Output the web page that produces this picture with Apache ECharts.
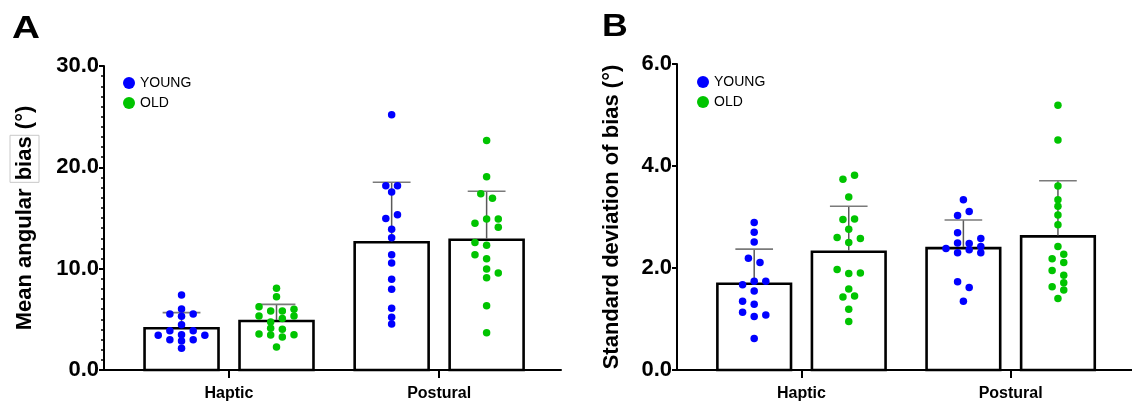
<!DOCTYPE html>
<html>
<head>
<meta charset="utf-8">
<script src="https://cdn.jsdelivr.net/npm/echarts@6/dist/echarts.min.js"></script>
<style>
html,body{margin:0;padding:0;background:#fff;}
#chart{width:1132px;height:403px;}
</style>
</head>
<body>
<div id="chart"></div>
<script>
// ---------- data ----------
const categories = ['Haptic', 'Postural'];
const groups = ['YOUNG', 'OLD'];
const panelLetters = ['A', 'B'];
const yTicksA = [0, 10, 20, 30];
const yTicksB = [0, 2, 4, 6];

// Panel A: mean angular bias (°) — bar means and SD (per category)
const angMeanYoung = [4.12, 12.60];
const angMeanOld = [4.84, 12.86];
const angSdYoung = [1.54, 5.93];
const angSdOld = [1.64, 4.78];

// Panel B: standard deviation of bias (°)
const sdMeanYoung = [1.69, 2.39];
const sdMeanOld = [2.32, 2.62];
const sdSdYoung = [0.68, 0.55];
const sdSdOld = [0.89, 1.09];

// Individual subjects (values) and swarm column index
const angYoungHaptic = [7.40, 6.02, 5.53, 5.53, 5.30, 4.47, 3.88, 3.88, 3.42, 3.49, 3.42, 2.99, 2.99, 2.86, 2.14];
const angYoungHapticCol = [0, 0, -1, 1, 0, 0, -1, 1, -2, 0, 2, -1, 1, 0, 0];
const angOldHaptic = [8.06, 7.24, 6.25, 5.82, 5.82, 5.99, 5.33, 5.07, 5.33, 4.74, 4.11, 4.01, 3.55, 3.46, 3.26, 3.49, 2.27];
const angOldHapticCol = [0, 0, -1.5, -0.5, 0.5, 1.5, -1.5, 0.5, 1.5, -0.5, -0.5, 0.5, -1.5, -0.5, 0.5, 1.5, 0];
const angYoungPostural = [25.2, 18.19, 18.19, 17.57, 14.94, 15.33, 13.89, 13.06, 11.38, 10.56, 8.95, 7.97, 6.09, 5.20, 4.54];
const angYoungPosturalCol = [0, -0.5, 0.5, 0, -0.5, 0.5, 0, 0, 0, 0, 0, 0, 0, 0, 0];
const angOldPostural = [22.64, 19.08, 17.40, 16.95, 14.91, 14.91, 14.48, 14.09, 12.57, 12.31, 11.38, 10.99, 9.97, 9.58, 9.11, 6.35, 3.68];
const angOldPosturalCol = [0, 0, -0.5, 0.5, 0, 1, -1, 1, -1, 0, -1, 0, 0, 1, 0, 0, 0];

const sdYoungHaptic = [2.89, 2.70, 2.51, 2.19, 2.11, 1.74, 1.74, 1.67, 1.55, 1.35, 1.29, 1.13, 1.05, 1.08, 0.62];
const sdYoungHapticCol = [0, 0, 0, -0.5, 0.5, 0, 1, -1, 0, -1, 0, -1, 0, 1, 0];
const sdOldHaptic = [3.74, 3.82, 3.39, 2.95, 2.96, 2.76, 2.60, 2.50, 2.58, 1.97, 1.89, 1.90, 1.59, 1.43, 1.45, 1.19, 0.95];
const sdOldHapticCol = [-0.5, 0.5, 0, -0.5, 0.5, 0, -1, 0, 1, -1, 0, 1, 0, -0.5, 0.5, 0, 0];
const sdYoungPostural = [3.34, 3.11, 3.03, 2.69, 2.58, 2.49, 2.48, 2.38, 2.36, 2.42, 2.30, 2.30, 1.73, 1.62, 1.35];
const sdYoungPosturalCol = [0, 0.5, -0.5, -0.5, 1.5, -0.5, 0.5, -1.5, 0.5, 1.5, -0.5, 1.5, -0.5, 0.5, 0];
const sdOldPostural = [5.19, 4.51, 3.61, 3.34, 3.21, 3.04, 2.85, 2.42, 2.27, 2.18, 2.11, 1.95, 1.86, 1.71, 1.63, 1.57, 1.40];
const sdOldPosturalCol = [0, 0, 0, 0, 0, 0, 0, 0, 0.5, -0.5, 0.5, -0.5, 0.5, 0.5, -0.5, 0.5, 0];

// ---------- layout / style ----------
const FONT = 'Liberation Sans, Arial, Helvetica, sans-serif';
const BLUE = '#0000ff';
const GREEN = '#00c400';
const groupOffset = 0.226;   // x-offset of each group's bar from the category centre (axis units)
const barW = 0.352;
const capW = 0.18;
const colStep = 0.0555;
const xMin = 0.405, xMax = 2.58;

function swarm(catIdx, sign, vals, cols) {
  return vals.map((v, i) => [catIdx + 1 + sign * groupOffset + cols[i] * colStep, v]);
}
function barData(means, sds) {
  return [
    [1 - groupOffset, means[0][0], sds[0][0]], [1 + groupOffset, means[1][0], sds[1][0]],
    [2 - groupOffset, means[0][1], sds[0][1]], [2 + groupOffset, means[1][1], sds[1][1]]
  ];
}
const barsA = barData([angMeanYoung, angMeanOld], [angSdYoung, angSdOld]);
const barsB = barData([sdMeanYoung, sdMeanOld], [sdSdYoung, sdSdOld]);

function renderBar(params, api) {
  const x = api.value(0), m = api.value(1);
  const p0 = api.coord([x - barW / 2, m]);
  const p1 = api.coord([x + barW / 2, 0]);
  return {
    type: 'rect',
    shape: { x: p0[0], y: p0[1], width: p1[0] - p0[0], height: p1[1] - p0[1] },
    style: { fill: '#ffffff', stroke: '#000000', lineWidth: 2.6 }
  };
}
function renderErr(params, api) {
  const x = api.value(0), m = api.value(1), s = api.value(2);
  const a = api.coord([x, m]);
  const b = api.coord([x, m + s]);
  const c0 = api.coord([x - capW / 2, m + s]);
  const c1 = api.coord([x + capW / 2, m + s]);
  return {
    type: 'group',
    children: [
      { type: 'line', shape: { x1: a[0], y1: a[1] - 1, x2: b[0], y2: b[1] }, style: { stroke: '#5a5a5a', lineWidth: 1.5 } },
      { type: 'line', shape: { x1: c0[0], y1: c0[1], x2: c1[0], y2: c1[1] }, style: { stroke: '#7a7a7a', lineWidth: 1.6 } }
    ]
  };
}

function xAxisCfg(gi) {
  return {
    type: 'value', gridIndex: gi, min: xMin, max: xMax,
    splitLine: { show: false },
    axisLine: { show: true, onZero: false, lineStyle: { color: '#000', width: 2 } },
    axisTick: { show: true, customValues: [1, 2], length: 8, lineStyle: { color: '#000', width: 2 } },
    axisLabel: {
      customValues: [1, 2], margin: 16,
      formatter: v => categories[Math.round(v) - 1] || '',
      color: '#000', fontFamily: FONT, fontWeight: 'bold', fontSize: 16
    }
  };
}
function yAxisCfg(gi, max, interval, name, nameGap, minor, rich) {
  return {
    type: 'value', gridIndex: gi, min: 0, max: max, interval: interval,
    name: name, nameLocation: 'middle', nameGap: nameGap,
    nameTextStyle: { color: '#000', fontFamily: FONT, fontWeight: 'bold', fontSize: 22, rich: rich },
    splitLine: { show: false },
    axisLine: { show: true, lineStyle: { color: '#000', width: 2 } },
    axisTick: { show: true, length: 5, lineStyle: { color: '#000', width: 2 } },
    minorTick: { show: minor, splitNumber: 10, length: 3, lineStyle: { color: '#000', width: 1.5 } },
    axisLabel: {
      margin: 5, color: '#000', fontFamily: FONT, fontWeight: 'bold', fontSize: 22,
      formatter: v => v.toFixed(1)
    }
  };
}

const chart = echarts.init(document.getElementById('chart'), null, { renderer: 'canvas' });
const option = {
  animation: false,
  backgroundColor: '#ffffff',
  graphic: [
    { type: 'text', x: 12, y: 14, scaleX: 1.25, z: 10,
      style: { text: panelLetters[0], font: 'bold 31px Liberation Sans, Arial, sans-serif', fill: '#000', verticalAlign: 'top' } },
    { type: 'text', x: 602, y: 12, scaleX: 1.15, z: 10,
      style: { text: panelLetters[1], font: 'bold 31px Liberation Sans, Arial, sans-serif', fill: '#000', verticalAlign: 'top' } }
  ],
  legend: [
    { data: groups, orient: 'vertical', left: 118, top: 71, icon: 'circle', itemWidth: 12, itemHeight: 12, itemGap: 6,
      textStyle: { fontFamily: FONT, fontSize: 14, color: '#000' }, selectedMode: false },
    { data: groups, orient: 'vertical', left: 692, top: 70, icon: 'circle', itemWidth: 12, itemHeight: 12, itemGap: 6,
      textStyle: { fontFamily: FONT, fontSize: 14, color: '#000' }, selectedMode: false }
  ],
  grid: [
    { left: 104, top: 66, width: 457, height: 304 },
    { left: 677, top: 64, width: 455, height: 306 }
  ],
  xAxis: [xAxisCfg(0), xAxisCfg(1)],
  yAxis: [
    yAxisCfg(0, yTicksA[yTicksA.length - 1], yTicksA[1] - yTicksA[0], 'Mean angular {b|bias} (°)', 65, true,
      { b: { fontFamily: FONT, fontWeight: 'bold', fontSize: 22, color: '#000', borderColor: '#c8c8c8', borderWidth: 1, padding: [4, 1, 3, 2] } }),
    yAxisCfg(1, yTicksB[yTicksB.length - 1], yTicksB[1] - yTicksB[0], 'Standard deviation of bias (°)', 54, false, undefined)
  ],
  series: [
    { type: 'custom', name: 'barsA', xAxisIndex: 0, yAxisIndex: 0, z: 2, clip: false, renderItem: renderBar, data: barsA },
    { type: 'custom', name: 'errA', xAxisIndex: 0, yAxisIndex: 0, z: 3, clip: false, renderItem: renderErr, data: barsA },
    { type: 'custom', name: 'barsB', xAxisIndex: 1, yAxisIndex: 1, z: 2, clip: false, renderItem: renderBar, data: barsB },
    { type: 'custom', name: 'errB', xAxisIndex: 1, yAxisIndex: 1, z: 3, clip: false, renderItem: renderErr, data: barsB },
    { type: 'scatter', name: 'YOUNG', xAxisIndex: 0, yAxisIndex: 0, z: 4, symbolSize: 7.5, itemStyle: { color: BLUE, opacity: 1 },
      data: swarm(0, -1, angYoungHaptic, angYoungHapticCol).concat(swarm(1, -1, angYoungPostural, angYoungPosturalCol)) },
    { type: 'scatter', name: 'OLD', xAxisIndex: 0, yAxisIndex: 0, z: 4, symbolSize: 7.5, itemStyle: { color: GREEN, opacity: 1 },
      data: swarm(0, 1, angOldHaptic, angOldHapticCol).concat(swarm(1, 1, angOldPostural, angOldPosturalCol)) },
    { type: 'scatter', name: 'YOUNG', xAxisIndex: 1, yAxisIndex: 1, z: 4, symbolSize: 7.5, itemStyle: { color: BLUE, opacity: 1 },
      data: swarm(0, -1, sdYoungHaptic, sdYoungHapticCol).concat(swarm(1, -1, sdYoungPostural, sdYoungPosturalCol)) },
    { type: 'scatter', name: 'OLD', xAxisIndex: 1, yAxisIndex: 1, z: 4, symbolSize: 7.5, itemStyle: { color: GREEN, opacity: 1 },
      data: swarm(0, 1, sdOldHaptic, sdOldHapticCol).concat(swarm(1, 1, sdOldPostural, sdOldPosturalCol)) }
  ]
};
chart.setOption(option);
</script>
</body>
</html>
